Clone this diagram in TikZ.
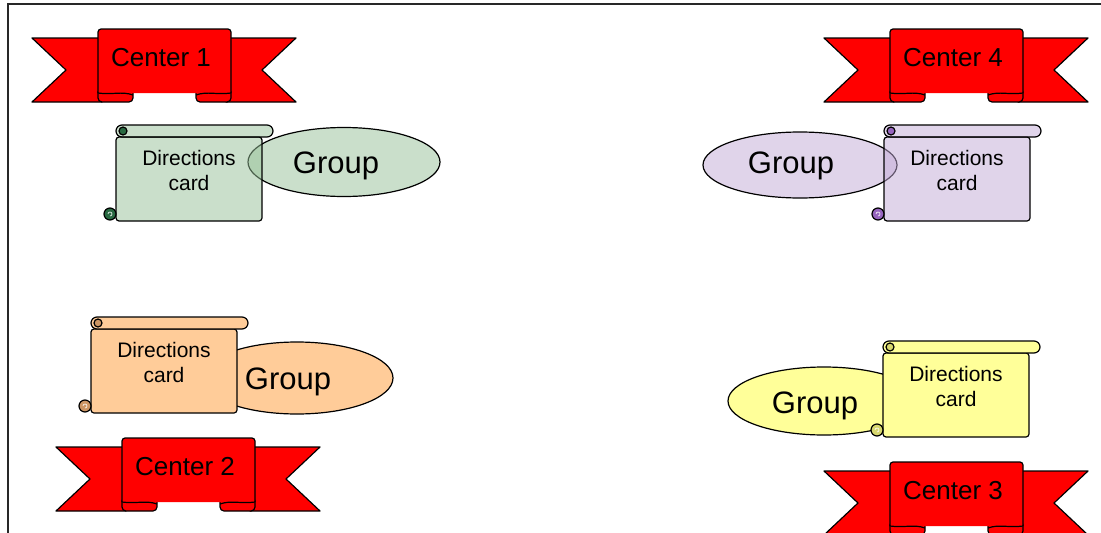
\documentclass[tikz,border=0pt]{standalone}
\usepackage{fontspec}
\setmainfont{Liberation Sans}
\usetikzlibrary{shapes.geometric}
\definecolor{ribred}{RGB}{255,0,0}
\definecolor{grn}{RGB}{150,192,152}
\definecolor{grncurl}{RGB}{40,105,65}
\definecolor{org}{RGB}{255,204,153}
\definecolor{orgcurl}{RGB}{205,150,100}
\definecolor{pur}{RGB}{194,170,214}
\definecolor{purcurl}{RGB}{150,100,190}
\definecolor{yel}{RGB}{255,255,153}
\definecolor{yelcurl}{RGB}{215,215,110}
\definecolor{frame}{RGB}{40,40,40}
\tikzset{
  rib/.style={draw=black, line width=1.2pt, fill=ribred, line join=round},
  ribtext/.style={inner sep=0pt, font=\fontsize{26}{30}\selectfont},
  scr/.style={draw=black, line width=1.2pt, line join=round},
  cardtext/.style={align=center, inner sep=0pt, text opacity=1, font=\fontsize{21}{25}\selectfont},
  grp/.style={ellipse, draw=black, line width=1.2pt, inner sep=0pt},
  grptext/.style={inner sep=0pt, font=\fontsize{31}{36}\selectfont}
}
\newcommand\ribbon[4]{%
\begin{scope}[shift={(#1,#2)}]
 \draw[rib] (0,9) -- (70,9) -- (70,73) -- (0,73) -- (34,41) -- cycle;
 \draw[rib] (264,9) -- (194,9) -- (194,73) -- (264,73) -- (230,41) -- cycle;
 \draw[rib, rounded corners=4] (66,59) rectangle (101,73);
 \draw[rib, rounded corners=4] (164,59) rectangle (199,73);
 \draw[rib, rounded corners=3] (66,64) -- (66,0) -- (199,0) -- (199,64);
 \draw[rib] (66,64) .. controls (80,66) and (90,62) .. (101,66);
 \draw[rib] (164,66) .. controls (175,62) and (185,66) .. (199,64);
 \node[ribtext] (#3) at (129,29) {#4};
\end{scope}}
\newcommand\scrollcard[6]{%
\begin{scope}[shift={(#1,#2)}]
 \draw[scr, fill=#3, fill opacity=#6, rounded corners=3] (11,12) -- (157,12) -- (157,96) -- (11,96) -- cycle;
 \draw[scr, fill=#3, fill opacity=#6, rounded corners=6] (11,0) rectangle (168,12);
 \draw[scr, fill=#4] (18,6) circle (4);
 \draw[scr, fill=#4] (5,89) circle (6);
 \draw[line width=0.8pt, draw=white!80!#4] (5,91) arc (90:-180:2);
 \node[cardtext] (#5) at (84,45) {Directions\\card};
\end{scope}}
\begin{document}
\begin{tikzpicture}[x=1pt,y=-1pt]
\useasboundingbox (0,0) rectangle (1101,533);
\clip (0,0) rectangle (1101,533);
\draw[frame, line width=1.3pt] (8,533) -- (8,4) -- (1101,4);
% ribbons
\ribbon{32}{29}{c1}{Center 1}
\ribbon{56}{438}{c2}{Center 2}
\ribbon{824}{462}{c3}{Center 3}
\ribbon{824}{29}{c4}{Center 4}
% groups (behind cards)
\node[grp, fill=grn, fill opacity=0.5, minimum width=192pt, minimum height=69pt] (g1) at (344,162) {};
\node[grptext] (t1) at (336,166) {Group};
\node[grp, fill=org, minimum width=192pt, minimum height=72pt] (g2) at (297,378) {};
\node[grptext] (t2) at (288,382) {Group};
\node[grp, fill=pur, fill opacity=0.5, minimum width=194pt, minimum height=66pt] (g4) at (800,165) {};
\node[grptext] (t4) at (791,166) {Group};
\node[grp, fill=yel, minimum width=192pt, minimum height=68pt] (g3) at (824,401) {};
\node[grptext] (t3) at (815,406) {Group};
% cards
\scrollcard{105}{125}{grn}{grncurl}{d1}{0.5}
\scrollcard{80}{317}{org}{orgcurl}{d2}{1}
\scrollcard{873}{125}{pur}{purcurl}{d4}{0.5}
\scrollcard{872}{341}{yel}{yelcurl}{d3}{1}
\end{tikzpicture}
\end{document}
